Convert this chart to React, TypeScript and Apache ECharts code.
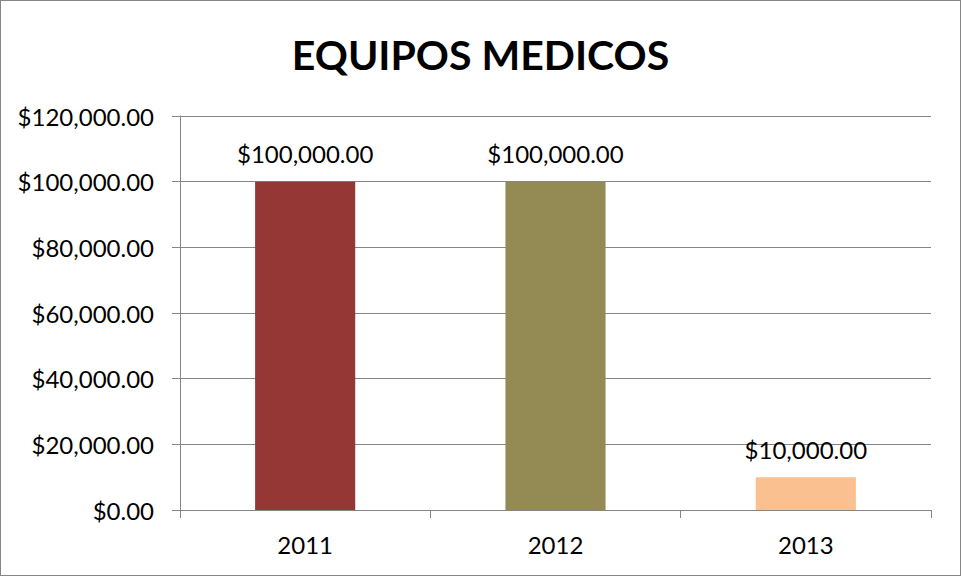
import React, { useEffect, useRef } from "react";
import * as echarts from "echarts";

const categories = ["2011", "2012", "2013"];
const values = [100000, 100000, 10000];
const barColors = ["#953735", "#948A54", "#FAC090"];
const titleText = "EQUIPOS MEDICOS";

const fmt = (v: number) =>
  "$" + v.toLocaleString("en-US", { minimumFractionDigits: 2, maximumFractionDigits: 2 });

export default function App() {
  const ref = useRef<HTMLDivElement>(null);
  useEffect(() => {
    const chart = echarts.init(ref.current!, null, { renderer: "svg" });
    const font = "Lato";
    chart.setOption({
      animation: false,
      backgroundColor: "#ffffff",
      title: {
        text: titleText,
        left: "center",
        top: 28,
        textStyle: { fontFamily: font, fontSize: 41, fontWeight: "bold", color: "#000" },
      },
      grid: { left: 179, right: 29, top: 115, bottom: 65, containLabel: false },
      xAxis: {
        type: "category",
        data: categories,
        axisLine: { lineStyle: { color: "#868686", width: 1 } },
        axisTick: { show: true, length: 8, alignWithLabel: false, lineStyle: { color: "#868686" } },
        axisLabel: { fontFamily: font, fontSize: 24, color: "#000", margin: 22 },
      },
      yAxis: {
        type: "value",
        min: 0,
        max: 120000,
        interval: 20000,
        axisLine: { show: true, lineStyle: { color: "#868686", width: 1 } },
        axisTick: { show: true, length: 8, lineStyle: { color: "#868686" } },
        splitLine: { lineStyle: { color: "#868686", width: 1 } },
        axisLabel: { fontFamily: font, fontSize: 24, color: "#000", margin: 26, formatter: (v: number) => fmt(v) },
      },
      series: [
        {
          type: "bar",
          barWidth: "40%",
          data: values.map((v, i) => ({ value: v, itemStyle: { color: barColors[i] } })),
          label: {
            show: true,
            position: "top",
            distance: 16,
            fontFamily: font,
            fontSize: 24,
            color: "#000",
            formatter: (p: any) => fmt(p.value),
          },
        },
      ],
    });
    return () => chart.dispose();
  }, []);
  return (
    <div
      ref={ref}
      style={{
        position: "absolute",
        left: 0,
        top: 0,
        width: 961,
        height: 576,
        boxSizing: "border-box",
        border: "1px solid #868686",
      }}
    />
  );
}
